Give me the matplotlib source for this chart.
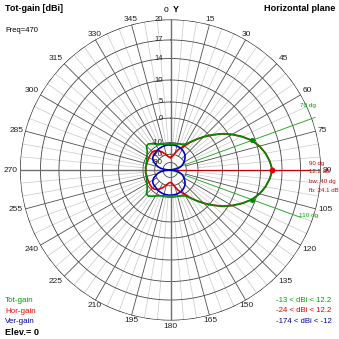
import numpy as np
import matplotlib.pyplot as plt

plt.rcParams['font.family'] = ['Liberation Sans', 'DejaVu Sans']

W = H = 339

# pattern data, dBi, every 5 deg clockwise from Y (0 = up)
angles = np.arange(0, 360, 5)
tot_gain = [-11.3, -11.2, -11.0, -10.5, -9.9, -9.6, -9.0, -7.3, -4.9, -2.0, 0.9, 3.5,
            5.7, 7.5, 9.2, 10.4, 11.2, 11.8,
            12.2, 11.8, 11.2, 10.4, 9.2, 7.5, 5.7, 3.5, 0.9, -2.0, -4.9, -7.3,
            -9.0, -9.6, -9.9, -10.5, -11.0, -11.2,
            -11.3, -11.2, -11.0, -10.6, -10.1, -9.6, -9.0, -8.2, -7.3, -7.3, -8.8, -9.6,
            -10.4, -11.1, -11.7, -12.2, -12.3, -12.0,
            -12.6, -12.0, -12.3, -12.2, -11.7, -11.1, -10.4, -9.6, -8.8, -7.3, -7.3, -8.2,
            -9.0, -9.6, -10.1, -10.6, -11.0, -11.2]
hor_gain = [-24.0, -23.5, -21.5, -18.5, -15.5, -12.5, -10.0, -7.6, -5.0, -2.1, 0.8, 3.5,
            5.7, 7.5, 9.2, 10.4, 11.2, 11.8,
            12.2, 11.8, 11.2, 10.4, 9.2, 7.5, 5.7, 3.5, 0.8, -2.1, -5.0, -7.6,
            -10.0, -12.5, -15.5, -18.5, -21.5, -23.5,
            -24.0, -23.7, -22.5, -20.5, -18.5, -16.5, -14.8, -13.2, -12.2, -11.7, -11.8, -12.0,
            -12.3, -12.4, -12.5, -12.6, -12.5, -12.2,
            -12.6, -12.2, -12.5, -12.6, -12.5, -12.4, -12.3, -12.0, -11.8, -11.7, -12.2, -13.2,
            -14.8, -16.5, -18.5, -20.5, -22.5, -23.7]
ver_gain = [-12.0, -12.05, -12.15, -12.35, -12.6, -13.0, -13.5, -14.2, -15.0, -16.0, -17.3, -18.8,
            -20.5, -22.5, -25.0, -28.0, -32.0, -38.0,
            -174.0, -38.0, -32.0, -28.0, -25.0, -22.5, -20.5, -18.8, -17.3, -16.0, -15.0, -14.2,
            -13.5, -13.0, -12.6, -12.35, -12.15, -12.05,
            -12.0, -12.05, -12.1, -12.2, -12.4, -12.7, -13.0, -13.5, -14.0, -14.2, -14.5, -15.0,
            -16.2, -17.8, -20.5, -23.0, -27.0, -33.0,
            -174.0, -33.0, -27.0, -23.0, -20.5, -17.8, -16.2, -15.0, -14.5, -14.2, -14.0, -13.5,
            -13.0, -12.7, -12.4, -12.2, -12.1, -12.05]

ring_levels = [20, 17, 14, 10, 5, 0, -10, -20, -30]
ring_labels = ['20', '17', '14', '10', '5', '0', '-10', '-20', '-30']

max_dir, max_gain = 90, 12.2
bw_dirs, bw_gain = [70, 110], 9.2
info_lines = ['90 dg', '12.2 dB', 'bw: 40 dg', 'fb: 24.1 dB']
range_lines = ['-13 < dBi < 12.2', '-24 < dBi < 12.2', '-174 < dBi < -12']

GREEN, RED, BLUE = '#008a00', '#e00000', '#0000c8'

# log-like radial scale (ring positions as fraction of radius)
scale_db = [-40, -30, -20, -10, 0, 5, 10, 14, 17, 20, 40]
scale_frac = [0, 0.05, 0.105, 0.183, 0.345, 0.452, 0.598, 0.741, 0.864, 1.0, 1.9]


def fwd(g):
    return np.interp(g, scale_db, scale_frac)


def inv(f):
    return np.interp(f, scale_frac, scale_db)


fig = plt.figure(figsize=(W / 100, H / 100), dpi=100)
ax = fig.add_axes([20 / W, (H - 320.5) / H, 301 / W, 301 / H], projection='polar')
ax.set_theta_zero_location('N')
ax.set_theta_direction(-1)
ax.set_rscale('function', functions=(fwd, inv))
ax.set_rlim(-40, 20)
ax.grid(False)
ax.set_xticks([])
ax.set_yticks([])
ax.spines['polar'].set_visible(False)

# grid
circ = np.linspace(0, 2 * np.pi, 721)
for lv in ring_levels:
    ax.plot(circ, np.full_like(circ, lv), color='#202020' if lv == 20 else '#454545',
            lw=0.9 if lv == 20 else 0.6, zorder=1)
for a in range(0, 360, 5):
    t = np.deg2rad(a)
    if a % 90 == 0:
        ax.plot([t, t], [-40, 20], color='#707070', lw=1.0, zorder=1)
    elif a % 15 == 0:
        ax.plot([t, t], [-20, 20], color='#505050', lw=0.6, zorder=1)
    else:
        ax.plot([t, t], [-10, 20], color='#c8c8c8', lw=0.5, zorder=0.9)

for lv, lab in zip(ring_levels, ring_labels):
    ax.annotate(lab, xy=(0, lv), xytext=(-5.5, 0), textcoords='offset points',
                ha='right', va='center', fontsize=5.5, color='#202020', zorder=5)

for a in range(15, 360, 15):
    t = np.deg2rad(a)
    s, c = np.sin(t), np.cos(t)
    ha = 'left' if s > 0.55 else ('right' if s < -0.55 else 'center')
    va = 'bottom' if c > 0.3 else ('top' if c < -0.3 else 'center')
    ax.annotate(str(a), xy=(t, 20), xytext=(1.5 * s, 1.5 * c), textcoords='offset points',
                ha=ha, va=va, fontsize=6, color='#202020', annotation_clip=False)

# max direction and beamwidth markers
tm = np.deg2rad(max_dir)
ax.plot([tm, tm], [-40, 18.2], color='#c00000', lw=0.7, zorder=2.5, clip_on=False)
t70, t110 = np.deg2rad(bw_dirs)
ax.plot([t70, t70], [-40, 20.5], color='#20b020', lw=0.6, zorder=2.5, clip_on=False)
ax.plot([t110, t110], [-40, 18.2], color='#20b020', lw=0.6, zorder=2.5, clip_on=False)

# patterns
th = np.deg2rad(np.append(angles, 360))
ax.plot(th, np.append(hor_gain, hor_gain[0]), color=RED, lw=1.2, zorder=3)
ax.plot(th, np.append(ver_gain, ver_gain[0]), color=BLUE, lw=1.2, zorder=3.2)
ax.plot(th, np.append(tot_gain, tot_gain[0]), color=GREEN, lw=1.2, zorder=3.5)

ax.plot([tm], [max_gain], 'o', color=RED, ms=3.2, zorder=4)
ax.plot(np.deg2rad(bw_dirs), [bw_gain, bw_gain], 'o', color=GREEN, ms=2.6, zorder=4)


def px(x, y):
    return x / W, 1 - y / H


fig.text(*px(5, 8.5), 'Tot-gain [dBi]', fontsize=6.5, fontweight='bold', va='center')
fig.text(*px(5, 31), 'Freq=470', fontsize=5.5, va='center')
fig.text(*px(335, 8.5), 'Horizontal plane', fontsize=6.6, fontweight='bold',
         va='center', ha='right')
fig.text(*px(168, 10), '0', fontsize=6, va='center', ha='right')
fig.text(*px(173, 10), 'Y', fontsize=6.5, fontweight='bold', va='center', ha='left')

for txt, y in zip(info_lines, [163, 171.5, 181, 190]):
    fig.text(*px(309, y), txt, fontsize=4.4, color='#d00000', va='center')
fig.text(*px(300, 105), '70 dg', fontsize=4.6, color='#00a000', va='center')
fig.text(*px(299, 215.5), '110 dg', fontsize=4.6, color='#00a000', va='center')

for txt, col, y in zip(['Tot-gain', 'Hor-gain', 'Ver-gain'], ['#00a000', '#ff0000', '#000099'],
                       [300.5, 311.5, 321.5]):
    fig.text(*px(5, y), txt, fontsize=5.8, color=col, va='center')
fig.text(*px(5, 332.5), 'Elev.= 0', fontsize=6.6, fontweight='bold', va='center')

for txt, col, y in zip(range_lines, ['#00a000', '#e00000', '#000099'], [300, 311, 321.5]):
    fig.text(*px(276, y), txt, fontsize=5.6, color=col, va='center')

fig.savefig('out.png', dpi=100, facecolor='white')
